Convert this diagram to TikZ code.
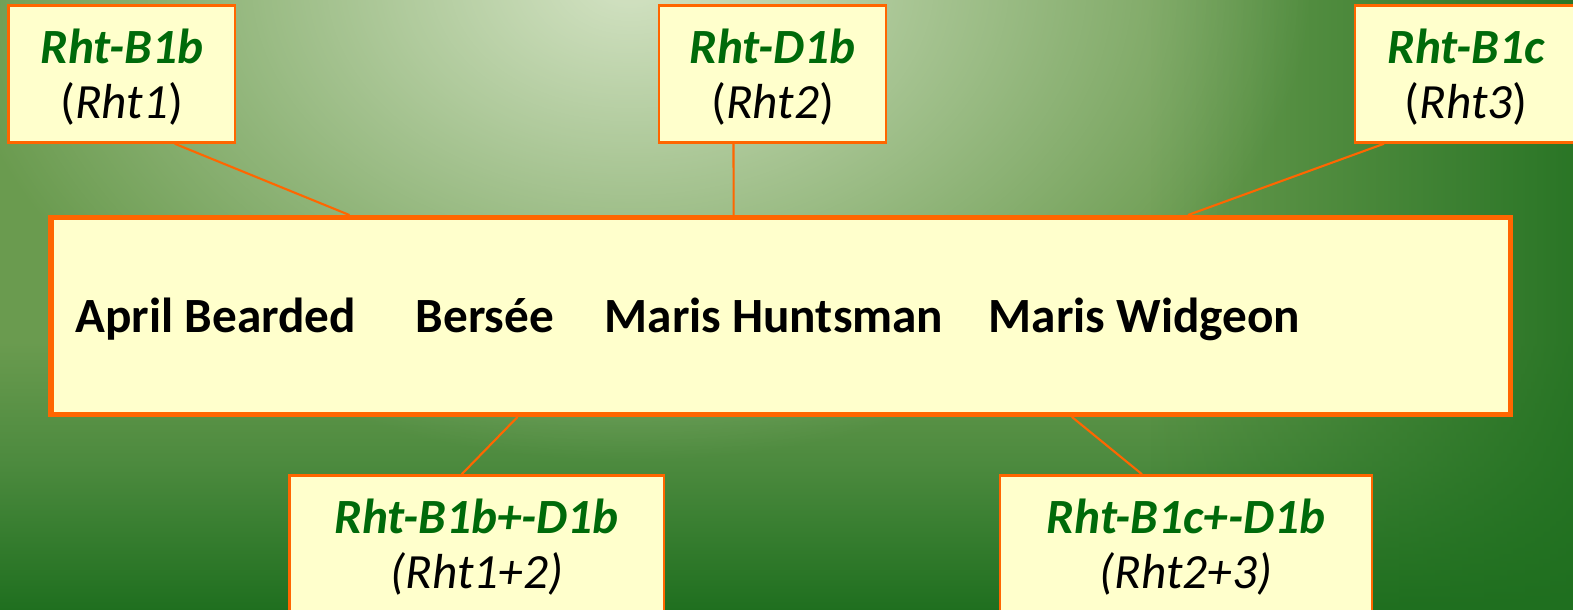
\documentclass[tikz,border=0pt]{standalone}
\usepackage{fontspec}
\setmainfont{Carlito}
\usetikzlibrary{fadings}

\definecolor{boxfill}{HTML}{FFFFCC}
\definecolor{boxline}{HTML}{FF6600}
\definecolor{genegreen}{HTML}{006A0A}
\definecolor{bgdark}{HTML}{1F6F1F}
\definecolor{bgdeep}{HTML}{4C8A3E}
\definecolor{bgmid}{HTML}{6A9B4F}
\definecolor{bglight}{HTML}{D4E3C4}
\pgfdeclareverticalshading{bgbase}{100bp}{color(0bp)=(bgdark); color(25bp)=(bgdark); color(37bp)=(bgdeep); color(47bp)=(bgmid); color(100bp)=(bgmid)}
\tikzfading[name=glowfade, inner color=transparent!0, outer color=transparent!100]
\tikzfading[name=edgefade, left color=transparent!100, right color=transparent!15]

\newcommand{\genename}[1]{{\color{genegreen}\bfseries\itshape #1}}

\tikzset{
  tagbox/.style={draw=boxline, line width=0.7pt, fill=boxfill, minimum height=1.37cm,
    inner sep=0pt, align=center, text height=27.2pt, font=\fontsize{14}{15.6}\selectfont},
  mainbox/.style={draw=boxline, line width=1.5pt, fill=boxfill, inner sep=0pt},
  variety/.style={anchor=base west, inner sep=0pt, font=\fontsize{14}{16}\selectfont\bfseries},
  link/.style={draw=boxline, line width=0.6pt}
}

\begin{document}
\begin{tikzpicture}[x=0.01cm, y=-0.01cm]
  \useasboundingbox (0,0) rectangle (1573,610);
  \clip (0,0) rectangle (1573,610);
  \shade[shading=bgbase] (0,0) rectangle (1573,610);
  \fill[bgdark, path fading=edgefade] (1150,0) rectangle (1573,610);
  \fill[bglight, path fading=glowfade] (630,-20) ellipse [x radius=680, y radius=480];

  \node[mainbox, minimum width=14.585cm, minimum height=1.965cm] (cultivars) at (780.7,316) {};
  \node[variety] (april) at (75,333) {April Bearded};
  \node[variety] (bersee) at (415,333) {Bersée};
  \node[variety] (huntsman) at (604,333) {Maris Huntsman};
  \node[variety] (widgeon) at (988,333) {Maris Widgeon};

  \node[tagbox, minimum width=2.265cm] (b1b) at (121.75,74) {\genename{Rht-B1b}\\(\textit{Rht1})};
  \node[tagbox, minimum width=2.27cm] (d1b) at (772.5,74) {\genename{Rht-D1b}\\(\textit{Rht2})};
  \node[tagbox, minimum width=2.22cm] (b1c) at (1466,74) {\genename{Rht-B1c}\\(\textit{Rht3})};
  \node[tagbox, minimum width=3.745cm] (b1bd1b) at (476.75,544) {\genename{Rht-B1b+-D1b}\\\textit{(Rht1+2)}};
  \node[tagbox, minimum width=3.715cm] (b1cd1b) at (1186,544) {\genename{Rht-B1c+-D1b}\\\textit{(Rht2+3)}};

  \draw[link] ([xshift=5.3mm]b1b.south) -- ([xshift=-43.1mm]cultivars.north);
  \draw[link] ([xshift=-3.9mm]d1b.south) -- ([xshift=-4.7mm]cultivars.north);
  \draw[link] ([xshift=-8.2mm]b1c.south) -- ([xshift=40.7mm]cultivars.north);
  \draw[link] ([xshift=-1.5mm]b1bd1b.north) -- ([xshift=-26.3mm]cultivars.south);
  \draw[link] ([xshift=-4.4mm]b1cd1b.north) -- ([xshift=29.1mm]cultivars.south);
\end{tikzpicture}
\end{document}
